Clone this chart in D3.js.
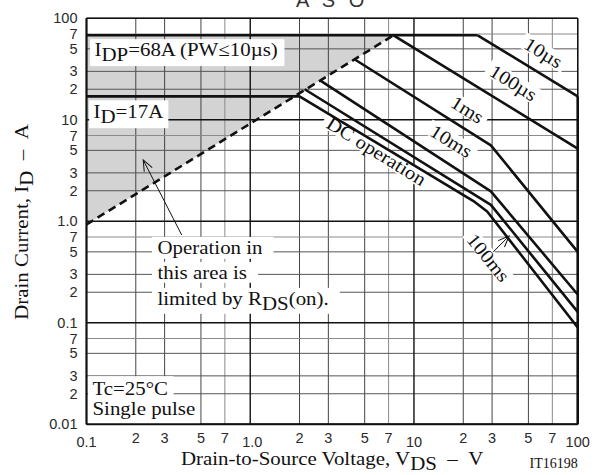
<!DOCTYPE html>
<html>
<head>
<meta charset="utf-8">
<script src="https://cdn.jsdelivr.net/npm/d3@7"></script>
<style>
  body { margin: 0; background: #fff; }
  svg { display: block; }
</style>
</head>
<body>
<svg id="chart"></svg>
<script>
// Axes (V_DS en V, I_D en A)
const xMajor = [0.1, 1, 10, 100];
const xMajorLabels = ["0.1", "1.0", "10", "100"];
const yMajor = [0.01, 0.1, 1, 10, 100];
const yMajorLabels = ["0.01", "0.1", "1.0", "10", "100"];
const minorSteps = [2, 3, 5, 7];

// Limites [V, A]
const rdsLimit = [[0.1, 0.93], [7.5, 68]];
const idpLimit = [[0.1, 68], [24.5, 68]];
const idLimit = [[0.1, 17], [2.0, 17]];
const vdssLimit = [[100, 17], [100, 0.01]];
const grayArea = [[0.1, 68], [7.5, 68], [0.1, 0.93]];

// Courbes par durée d'impulsion [V, A]
const curve10us = [[24.5, 68], [100, 17]];
const curve100us = [[7.5, 68], [100, 5.2]];
const curve1ms = [[4.33, 39.5], [29.5, 5.6], [100, 0.5]];
const curve10ms = [[2.67, 24.5], [29.5, 1.97], [100, 0.19]];
const curve100ms = [[2.15, 20], [29.5, 1.45], [100, 0.128]];
const curveDC = [[2.0, 17], [23.5, 1.55], [28, 1.25], [100, 0.09]];

const width = 605, height = 475;
const serif = "'Liberation Serif', 'Times New Roman', serif";
const sans = "'Liberation Sans', Arial, sans-serif";
const stretch = 1.1;
const sp = "\u00a0";

const svg = d3.select("#chart").attr("width", width).attr("height", height);

const x = d3.scaleLog().domain([0.1, 100]).range([86.5, 577.7]);
const y = d3.scaleLog().domain([0.01, 100]).range([424.3, 18.3]);
const line = d3.line().x(d => x(d[0])).y(d => y(d[1]));

const x0 = x.range()[0], x1 = x.range()[1];
const yTop = y.range()[1], yBot = y.range()[0];

// zone grise (limitée par RDS(on))
svg.append("path").attr("d", line(grayArea) + "Z").attr("fill", "#d3d3d3");

// grille
const xMinor = xMajor.slice(0, -1).flatMap(d => minorSteps.map(m => d * m));
const yMinor = yMajor.slice(0, -1).flatMap(d => minorSteps.map(m => d * m));
const grid = svg.append("g");
grid.selectAll(".vx").data(xMinor).join("line")
  .attr("x1", d => x(d)).attr("x2", d => x(d)).attr("y1", yTop).attr("y2", yBot)
  .attr("stroke", d => String(d).includes("7") ? "#8a8a8a" : "#444").attr("stroke-width", 1);
grid.selectAll(".hy").data(yMinor).join("line")
  .attr("y1", d => y(d)).attr("y2", d => y(d)).attr("x1", x0).attr("x2", x1)
  .attr("stroke", d => String(d).includes("7") ? "#8a8a8a" : "#555").attr("stroke-width", 1);
grid.selectAll(".vX").data(xMajor).join("line")
  .attr("x1", d => x(d)).attr("x2", d => x(d)).attr("y1", yTop).attr("y2", yBot)
  .attr("stroke", "#111").attr("stroke-width", 1.4);
grid.selectAll(".hY").data(yMajor).join("line")
  .attr("y1", d => y(d)).attr("y2", d => y(d)).attr("x1", x0).attr("x2", x1)
  .attr("stroke", "#111").attr("stroke-width", 1.4);

// texte avec indices : "I_{DP}=68A"
function addRich(t, s) {
  const re = /_\{([^}]*)\}/g;
  let last = 0, m, shift = 0;
  while ((m = re.exec(s))) {
    if (m.index > last) {
      t.append("tspan").attr("dy", -shift).text(s.slice(last, m.index));
      shift = 0;
    }
    t.append("tspan").attr("dy", 5 - shift).text(m[1]);
    shift = 5;
    last = re.lastIndex;
  }
  if (last < s.length) t.append("tspan").attr("dy", -shift).text(s.slice(last));
}

// texte sur fond blanc
const bgLayer = svg.append("g");
function boxedText(px, py, s, opt = {}) {
  const g = bgLayer.append("g")
    .attr("transform", `translate(${px},${py}) rotate(${opt.rotate || 0}) scale(${stretch},1)`);
  const t = g.append("text")
    .attr("font-family", serif).attr("font-size", opt.size || 19)
    .attr("fill", "#111").attr("text-anchor", opt.anchor || "start");
  if (opt.dy) t.attr("dy", opt.dy);
  addRich(t, s);
  const b = t.node().getBBox();
  const p = opt.pad || [3, 3, 1, 1];
  g.insert("rect", "text")
    .attr("x", b.x - p[0]).attr("y", b.y - p[2])
    .attr("width", b.width + p[0] + p[1]).attr("height", b.height + p[2] + p[3])
    .attr("fill", "#fff");
  return g;
}

boxedText(x0 + 8, y(68) + 21, "I_{DP}=68A (PW≤10µs)", { pad: [4, 6, 0, 1] });
boxedText(x0 + 7, y(17) + 22, "I_{D}=17A", { pad: [4, 4, 1, 1] });
boxedText(x0 + 71, 254, "Operation in", { pad: [5, 10, 0, 0] });
boxedText(x0 + 71, 279, "this area is", { pad: [5, 10, 0, 0] });
boxedText(x0 + 71, 305, "limited by R_{DS}(on).", { pad: [5, 10, 0, 0] });
boxedText(x0 + 6, yBot - 29, "Tc=25°C", { pad: [4, 5, 2, 0] });
boxedText(x0 + 6, yBot - 9, "Single pulse", { pad: [4, 4, 0, 8] });

// étiquettes des courbes (parallèles aux droites)
const ppdX = x(10) - x(1), ppdY = y(1) - y(10);
const angle = s => Math.atan2(ppdY * s, ppdX) * 180 / Math.PI;
const curveLabels = [
  { text: "10µs", at: [58.9, 40.4], slope: 1 },
  { text: "100µs", at: [38.6, 20.4], slope: 1 },
  { text: "1ms", at: [20.2, 11.1], slope: 1 },
  { text: "10ms", at: [16.1, 5.43], slope: 1 },
  { text: "DC operation", at: [5.62, 4.33], slope: 1 },
  { text: "100ms", at: [26.5, 0.40], slope: 2 }
];
curveLabels.forEach(l => {
  boxedText(x(l.at[0]), y(l.at[1]), l.text,
    { rotate: angle(l.slope), anchor: "middle", dy: "0.45em", pad: [4, 4, -2, -3] });
});

// limites et courbes
const curves = svg.append("g").attr("fill", "none").attr("stroke", "#111")
  .attr("stroke-width", 2.6).attr("stroke-linejoin", "round");
[idpLimit, idLimit, curve10us, curve100us, curve1ms, curve10ms, curve100ms, curveDC, vdssLimit]
  .forEach(c => curves.append("path").attr("d", line(c)));
curves.append("path").attr("d", line(rdsLimit)).attr("stroke-dasharray", "8,5");

// flèches
const defs = svg.append("defs");
defs.append("marker").attr("id", "head").attr("viewBox", "-12 -6 14 12")
  .attr("markerWidth", 14).attr("markerHeight", 12).attr("refX", 0).attr("refY", 0)
  .attr("markerUnits", "userSpaceOnUse").attr("orient", "auto")
  .append("path").attr("d", "M-11,-4.5L0,0L-11,4.5").attr("fill", "none")
  .attr("stroke", "#111").attr("stroke-width", 1);
const arrows = [
  [[0.3815, 0.733], [0.222, 4.02]],
  [[30.5, 0.50], [38.1, 0.716]]
];
svg.append("g").selectAll("path").data(arrows).join("path")
  .attr("d", d => line(d)).attr("stroke", "#111").attr("stroke-width", 1)
  .attr("fill", "none").attr("marker-end", "url(#head)");

// cadre
const frame = svg.append("g").attr("stroke", "#111").attr("fill", "none");
frame.append("line").attr("x1", x0).attr("x2", x1).attr("y1", yTop).attr("y2", yTop).attr("stroke-width", 1.2);
frame.append("line").attr("x1", x1).attr("x2", x1).attr("y1", yTop).attr("y2", yBot).attr("stroke-width", 1.2);
frame.append("line").attr("x1", x0).attr("x2", x0).attr("y1", yTop).attr("y2", yBot).attr("stroke-width", 2);
frame.append("line").attr("x1", x0).attr("x2", x1).attr("y1", yBot).attr("y2", yBot).attr("stroke-width", 2);

// graduations
const tickG = svg.append("g").attr("font-family", sans).attr("font-size", 14.5).attr("fill", "#2a2a2a");
const mantissa = d => Math.round(d / Math.pow(10, Math.floor(Math.log10(d) + 1e-9)));
tickG.selectAll(".xm").data(xMajor).join("text")
  .attr("x", (d, i) => x(d) + (i === 1 ? 2 : 0)).attr("y", yBot + 23)
  .attr("text-anchor", "middle").text((d, i) => xMajorLabels[i]);
tickG.selectAll(".xn").data(xMinor).join("text")
  .attr("x", d => x(d)).attr("y", yBot + 19).attr("text-anchor", "middle")
  .text(mantissa);
tickG.selectAll(".ym").data(yMajor).join("text")
  .attr("x", x0 - 9).attr("y", d => y(d)).attr("dy", "0.35em")
  .attr("text-anchor", "end").text((d, i) => yMajorLabels[i]);
tickG.selectAll(".yn").data(yMinor).join("text")
  .attr("x", x0 - 9).attr("y", d => y(d)).attr("dy", "0.35em")
  .attr("text-anchor", "end").text(mantissa);

// titres
const xt = svg.append("text").attr("font-family", serif).attr("font-size", 19).attr("fill", "#111")
  .attr("text-anchor", "middle")
  .attr("transform", `translate(${(x0 + x1) / 2},465) scale(${stretch},1)`);
addRich(xt, `Drain-to-Source Voltage, V_{DS}${sp}${sp}–${sp}${sp}V`);
const yt = svg.append("text").attr("font-family", serif).attr("font-size", 19).attr("fill", "#111")
  .attr("text-anchor", "middle")
  .attr("transform", `translate(28,222) rotate(-90) scale(${stretch},1)`);
addRich(yt, `Drain Current, I_{D}${sp}${sp}–${sp}${sp}A`);
svg.append("text").attr("x", x1).attr("y", 468).attr("text-anchor", "end")
  .attr("font-family", serif).attr("font-size", 14).attr("fill", "#111").text("IT16198");
svg.append("text").attr("x", (x0 + x1) / 2).attr("y", 7).attr("text-anchor", "middle")
  .attr("font-family", sans).attr("font-size", 20).attr("letter-spacing", 4)
  .attr("fill", "#333").text("A S O");
</script>
</body>
</html>
